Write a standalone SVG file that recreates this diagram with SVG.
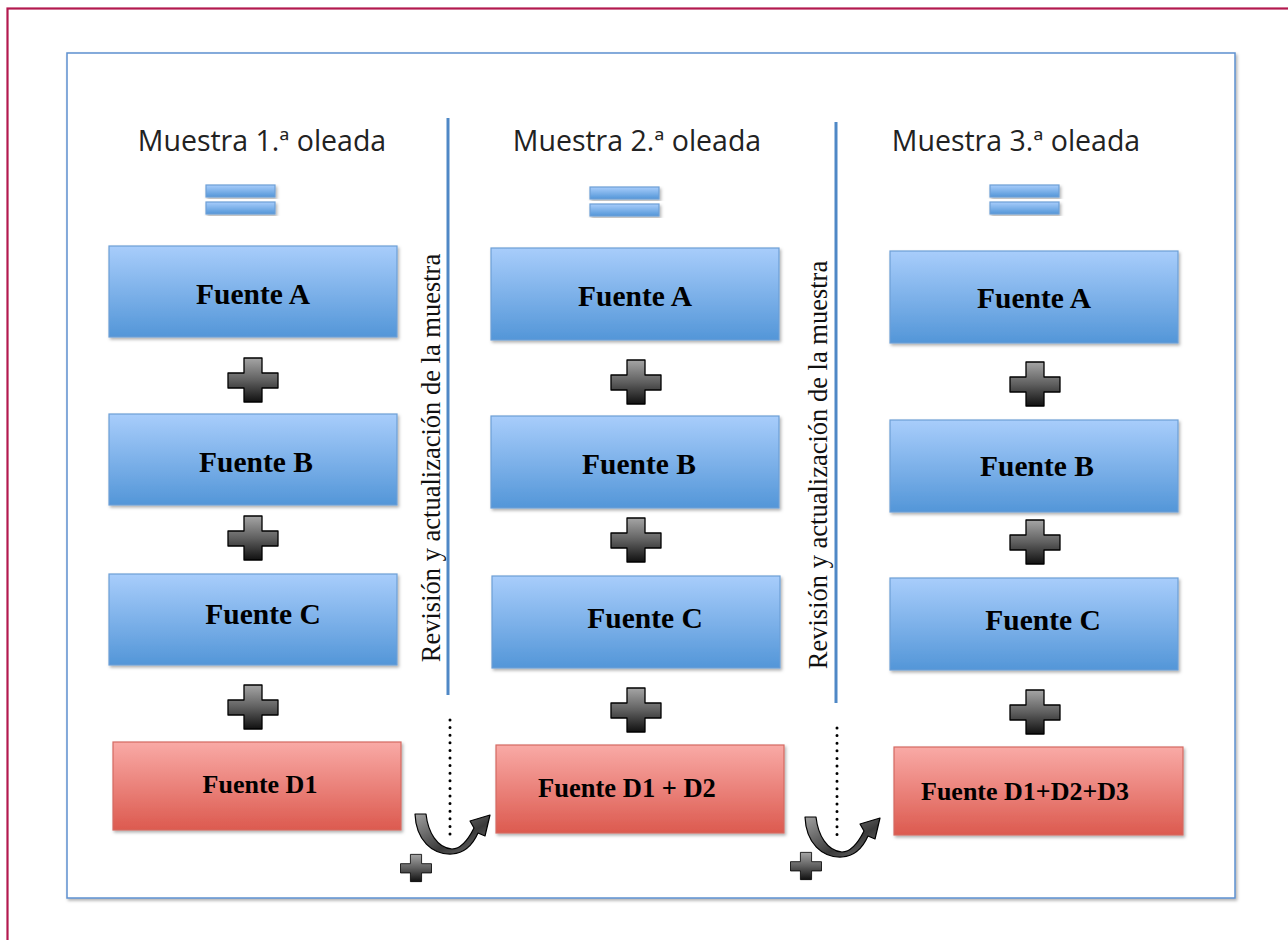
<svg xmlns="http://www.w3.org/2000/svg" width="1288" height="940" viewBox="0 0 1288 940">
<defs>
<linearGradient id="gBlue" x1="0" y1="0" x2="0" y2="1"><stop offset="0" stop-color="#a8cdfb"/><stop offset="1" stop-color="#5396d8"/></linearGradient>
<linearGradient id="gRed" x1="0" y1="0" x2="0" y2="1"><stop offset="0" stop-color="#f9aaa6"/><stop offset="1" stop-color="#dc5a4f"/></linearGradient>
<linearGradient id="gPlus" x1="0" y1="0" x2="0" y2="1"><stop offset="0" stop-color="#a5a5a5"/><stop offset="0.5" stop-color="#606060"/><stop offset="1" stop-color="#111"/></linearGradient>
<linearGradient id="gArrow" x1="0" y1="0" x2="1" y2="1"><stop offset="0" stop-color="#a0a0a0"/><stop offset="0.6" stop-color="#3a3a3a"/><stop offset="1" stop-color="#777"/></linearGradient>
<filter id="sh" x="-5%" y="-5%" width="115%" height="120%"><feDropShadow dx="1.5" dy="2" stdDeviation="1.5" flood-color="#000" flood-opacity="0.3"/></filter>
<path id="plus" d="M-9,-22 H9 V-7 H25 V8 H9 V22 H-9 V8 H-25 V-7 H-9 Z"/>
</defs>
<style>
.blue{fill:url(#gBlue);stroke:#6d9fd6;stroke-width:1.2;filter:url(#sh)}
.red{fill:url(#gRed);stroke:#d46a62;stroke-width:1.2;filter:url(#sh)}
.lbl{font-family:"Liberation Serif","Times New Roman",serif;font-weight:bold;fill:#000;text-anchor:middle}
.ttl{font-family:"Open Sans","Noto Sans",sans-serif;font-size:28.5px;fill:#222;text-anchor:middle}
.rot{font-family:"Liberation Serif","Times New Roman",serif;font-size:26.5px;fill:#111;text-anchor:middle}
.pl{fill:url(#gPlus);stroke:#000;stroke-width:1.3;stroke-linejoin:round}
.div{stroke:#4f88c6;stroke-width:3}
.dot{stroke:#000;stroke-width:3;stroke-linecap:round;stroke-dasharray:0 7.6}
.arr{fill:url(#gArrow);stroke:#000;stroke-width:1.2;stroke-linejoin:round}
</style>
<rect width="1288" height="940" fill="#fff"/>
<rect x="7.5" y="8.5" width="1300" height="950" fill="none" stroke="#b3194f" stroke-width="2.2"/>
<rect x="67" y="53" width="1168" height="845" fill="#fff" stroke="#5d90cf" stroke-width="1.5" filter="url(#sh)"/>

<g id="titles">
<text class="ttl" x="262" y="151">Muestra 1.ª oleada</text>
<text class="ttl" x="637" y="151">Muestra 2.ª oleada</text>
<text class="ttl" x="1016" y="151">Muestra 3.ª oleada</text>
</g>

<g id="equals">
<rect class="blue" x="206" y="185" width="69" height="12"/><rect class="blue" x="206" y="202" width="69" height="12"/>
<rect class="blue" x="590" y="187" width="69" height="12"/><rect class="blue" x="590" y="204" width="69" height="12"/>
<rect class="blue" x="990" y="185" width="69" height="12"/><rect class="blue" x="990" y="202" width="69" height="12"/>
</g>

<g id="col1">
<g id="c1A"><rect class="blue" x="109" y="246" width="288" height="91"/><text class="lbl" x="253" y="304" font-size="29.5">Fuente A</text></g>
<g id="c1B"><rect class="blue" x="109" y="414" width="288" height="91"/><text class="lbl" x="256" y="472" font-size="29.5">Fuente B</text></g>
<g id="c1C"><rect class="blue" x="109" y="574" width="288" height="91"/><text class="lbl" x="263" y="624" font-size="29.5">Fuente C</text></g>
<g id="c1D"><rect class="red" x="113" y="742" width="288" height="88"/><text class="lbl" x="260" y="793" font-size="26">Fuente D1</text></g>
</g>
<g id="col2">
<g id="c2A"><rect class="blue" x="491" y="248" width="288" height="92"/><text class="lbl" x="635" y="306" font-size="29.5">Fuente A</text></g>
<g id="c2B"><rect class="blue" x="491" y="416" width="288" height="92"/><text class="lbl" x="639" y="474" font-size="29.5">Fuente B</text></g>
<g id="c2C"><rect class="blue" x="492" y="576" width="288" height="92"/><text class="lbl" x="645" y="628" font-size="29.5">Fuente C</text></g>
<g id="c2D"><rect class="red" x="496" y="745" width="288" height="88"/><text class="lbl" x="627" y="797" font-size="26.5">Fuente D1 + D2</text></g>
</g>
<g id="col3">
<g id="c3A"><rect class="blue" x="890" y="251" width="288" height="92"/><text class="lbl" x="1034" y="308" font-size="29.5">Fuente A</text></g>
<g id="c3B"><rect class="blue" x="890" y="420" width="288" height="92"/><text class="lbl" x="1037" y="476" font-size="29.5">Fuente B</text></g>
<g id="c3C"><rect class="blue" x="890" y="578" width="288" height="92"/><text class="lbl" x="1043" y="630" font-size="29.5">Fuente C</text></g>
<g id="c3D"><rect class="red" x="894" y="747" width="289" height="88"/><text class="lbl" x="1025" y="800" font-size="26">Fuente D1+D2+D3</text></g>
</g>

<g id="connectors">
<use href="#plus" class="pl" transform="translate(253,380)"/>
<use href="#plus" class="pl" transform="translate(253,538)"/>
<use href="#plus" class="pl" transform="translate(253,707)"/>
<use href="#plus" class="pl" transform="translate(636,382)"/>
<use href="#plus" class="pl" transform="translate(636,540)"/>
<use href="#plus" class="pl" transform="translate(636,710)"/>
<use href="#plus" class="pl" transform="translate(1035,384)"/>
<use href="#plus" class="pl" transform="translate(1035,542)"/>
<use href="#plus" class="pl" transform="translate(1035,712)"/>

<line class="div" x1="448" y1="118" x2="448" y2="695"/>
<line class="div" x1="836" y1="122" x2="836" y2="703"/>
<line class="dot" x1="450" y1="720" x2="450" y2="836"/>
<line class="dot" x1="837" y1="728" x2="837" y2="837"/>

<path class="arr" d="M415,814 C416,840 432,855 452,854 C466,853 474,842 478,833 L485,836 L490,815 L470,821 L474,828 C468,840 460,849 452,849 C437,848 428,832 426,814 Z"/>
<path class="arr" transform="translate(390,3)" d="M415,814 C416,840 432,855 452,854 C466,853 474,842 478,833 L485,836 L490,815 L470,821 L474,828 C468,840 460,849 452,849 C437,848 428,832 426,814 Z"/>
<use href="#plus" class="pl" transform="translate(416,868) scale(0.62)"/>
<use href="#plus" class="pl" transform="translate(806,866) scale(0.62)"/>
</g>

<g id="sidetexts">
<text class="rot" transform="translate(440,458) rotate(-90)">Revisión y actualización de la muestra</text>
<text class="rot" transform="translate(827,465) rotate(-90)">Revisión y actualización de la muestra</text>
</g>
</svg>
